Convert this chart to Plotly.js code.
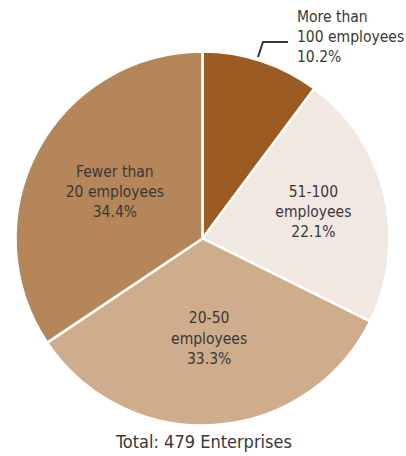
<!DOCTYPE html>
<html>
<head>
<meta charset="utf-8">
<script src="https://cdn.plot.ly/plotly-3.0.1.min.js"></script>
<style>html,body{margin:0;padding:0;background:#fff;}#chart{width:406px;height:456px;}</style>
</head>
<body>
<div id="chart"></div>
<script>
const categories = ["More than<br>100 employees", "51-100<br>employees", "20-50<br>employees", "Fewer than<br>20 employees"];
const shares = [10.2, 22.1, 33.3, 34.4];
const colors = ["#9B5B22", "#F2E8E2", "#CFAC8C", "#B4865A"];
const totalLabel = "Total: 479 Enterprises";

const FONT = "'Liberation Sans Narrow', 'DejaVu Sans Condensed', 'Roboto', sans-serif";
const TXT = "#383838";

const texts = categories.map((c, i) => i === 0 ? "" : c + "<br>" + shares[i].toFixed(1) + "%");

const trace = {
  type: "pie",
  labels: categories,
  values: shares,
  text: texts,
  textinfo: "text",
  textposition: "inside",
  insidetextorientation: "horizontal",
  sort: false,
  direction: "clockwise",
  rotation: 0,
  hoverinfo: "none",
  marker: { colors: colors, line: { color: "#ffffff", width: 2.5 } },
  insidetextfont: { family: FONT, size: 15.5, color: TXT },
  domain: { x: [0.0382, 0.9594], y: [0.0669, 0.8871] },
  showlegend: false
};

const layout = {
  width: 406,
  height: 456,
  margin: { l: 0, r: 0, t: 0, b: 0 },
  paper_bgcolor: "#ffffff",
  font: { family: FONT, color: TXT },
  annotations: [
    {
      text: categories[0] + "<br>" + shares[0].toFixed(1) + "%",
      xref: "paper", yref: "paper",
      x: 295 / 406, y: 1 - 6 / 456,
      xanchor: "left", yanchor: "top", align: "left",
      showarrow: false,
      font: { family: FONT, size: 15.5, color: TXT }
    },
    {
      text: totalLabel,
      xref: "paper", yref: "paper",
      x: 0.5, y: 1 - 441 / 456,
      xanchor: "center", yanchor: "middle",
      showarrow: false,
      font: { family: FONT, size: 18, color: TXT }
    }
  ],
  shapes: [
    {
      type: "path", xref: "paper", yref: "paper",
      path: "M " + (258/406) + " " + (1-57/456) + " L " + (263/406) + " " + (1-42/456) + " L " + (288/406) + " " + (1-42/456),
      line: { color: TXT, width: 2 }
    }
  ]
};

Plotly.newPlot("chart", [trace], layout, { displayModeBar: false, staticPlot: true });
</script>
</body>
</html>
